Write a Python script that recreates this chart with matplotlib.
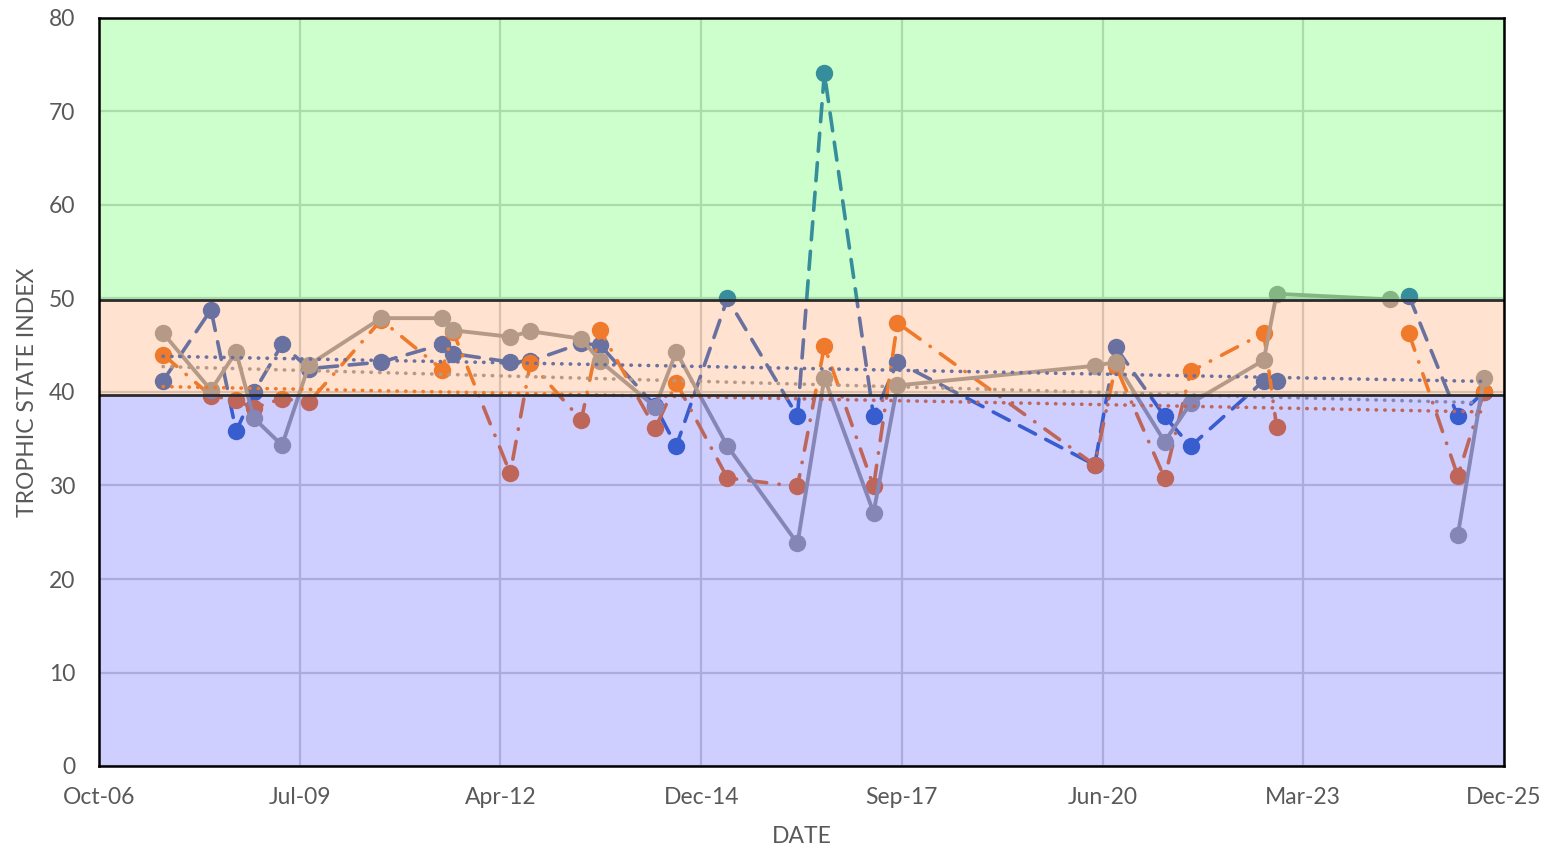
import numpy as np
import pandas as pd
import matplotlib
matplotlib.use("Agg")
import matplotlib.pyplot as plt
import matplotlib.dates as mdates

# sampling dates
dates = ['2007-08-25', '2008-04-20', '2008-08-23', '2008-11-20', '2009-04-09',
         '2009-08-21', '2010-08-16', '2011-06-16', '2011-08-10', '2012-05-20',
         '2012-08-28', '2013-05-09', '2013-08-11', '2014-05-12', '2014-08-25',
         '2015-05-07', '2016-04-20', '2016-09-01', '2017-05-04', '2017-08-31',
         '2020-05-10', '2020-08-22', '2021-04-23', '2021-08-31', '2022-08-30',
         '2022-11-02', '2024-05-20', '2024-08-22', '2025-04-23', '2025-08-31']

nan = np.nan
# blue dashed series
tsi_blue = [41.2, 48.8, 35.8, 40.0, 45.1, 42.5, 43.2, 45.1, 44.1, 43.2,
            43.3, 45.2, 45.0, 38.5, 34.2, 50.0, 37.4, 74.1, 37.4, 43.2,
            32.2, 44.8, 37.4, 34.2, 41.2, 41.2, nan, 50.3, 37.4, 40.0]
# orange dash-dot series
tsi_orange = [44.0, 39.6, 39.1, 38.3, 39.3, 38.9, 47.7, 42.4, 46.4, 31.3,
              43.1, 37.0, 46.6, 36.1, 41.0, 30.8, 29.9, 44.9, 29.9, 47.4,
              32.2, 42.8, 30.8, 42.2, 46.3, 36.3, nan, 46.3, 31.0, 40.0]
# gray solid series
tsi_gray = [46.3, 40.2, 44.3, 37.2, 34.3, 42.9, 47.9, 47.9, 46.6, 45.9,
            46.5, 45.7, 43.3, 38.4, 44.3, 34.2, 23.8, 41.5, 27.1, 40.7,
            42.8, 43.2, 34.7, 38.8, 43.4, 50.5, 49.9, nan, 24.7, 41.5]

# excel serial axis: 39000 .. 46000, major unit 1000
tick_serials = np.arange(39000, 46001, 1000)

x = pd.to_datetime(dates)
xn = mdates.date2num(x)
tick_dates = pd.Timestamp('1899-12-30') + pd.to_timedelta(tick_serials, unit='D')

plt.rcParams['font.family'] = ['Lato', 'DejaVu Sans']

fig = plt.figure(figsize=(15.5, 8.56), dpi=100)
ax = fig.add_axes([99/1550, 1-766/856, (1504-99)/1550, (766-18)/856])

series = [
    (tsi_blue, '#4472C4', 2.6, dict(dashes=(5, 3.2))),
    (tsi_orange, '#ED7D31', 2.6, dict(dashes=(5, 3.4, 0.1, 3.4))),
    (tsi_gray, '#A5A5A5', 2.8, dict(linestyle='-')),
]

for vals, col, lw, style in series:
    ax.plot(x, vals, color=col, lw=lw, marker='o', ms=11.5, mec=col,
            dash_capstyle='round', zorder=2, **style)

# linear trendlines
for vals, col, lw, style in series:
    v = np.array(vals)
    ok = ~np.isnan(v)
    k, b = np.polyfit(xn[ok], v[ok], 1)
    xt = np.array([xn[ok][0], xn[ok][-1]])
    ax.plot(mdates.num2date(xt), k*xt + b, color=col, lw=2.6,
            dashes=(0.1, 2.3), dash_capstyle='round', zorder=3)

# trophic bands laid over the data
ax.axhspan(49.8, 80, color=(0, 1, 0), alpha=0.2, lw=0, zorder=5)
ax.axhspan(39.7, 49.8, color=(1, 0.43, 0.08), alpha=0.2, lw=0, zorder=5)
ax.axhspan(0, 39.7, color=(0.04, 0.04, 1), alpha=0.2, lw=0, zorder=5)
ax.axhline(49.8, color='#2b2b2b', lw=2, zorder=6)
ax.axhline(39.7, color='#2b2b2b', lw=2, zorder=6)

ax.set_ylim(0, 80)
ax.set_yticks(range(0, 81, 10))
ax.set_xlim(tick_dates[0], tick_dates[-1])
ax.set_xticks(tick_dates)
ax.xaxis.set_major_formatter(mdates.DateFormatter('%b-%y'))

ax.set_axisbelow(True)
ax.grid(color='#d4d4d4', lw=1.6)
for s in ax.spines.values():
    s.set_color('black')
    s.set_linewidth(1.8)
    s.set_zorder(10)

ax.tick_params(length=0, labelsize=16.5, labelcolor='#595959', pad=15)
ax.tick_params(axis='y', pad=17)
ax.set_xlabel('DATE', fontsize=16.5, color='#595959', labelpad=13)
ax.set_ylabel('TROPHIC STATE INDEX', fontsize=16.5, color='#595959', labelpad=8)

fig.savefig('out.png', dpi=100)
